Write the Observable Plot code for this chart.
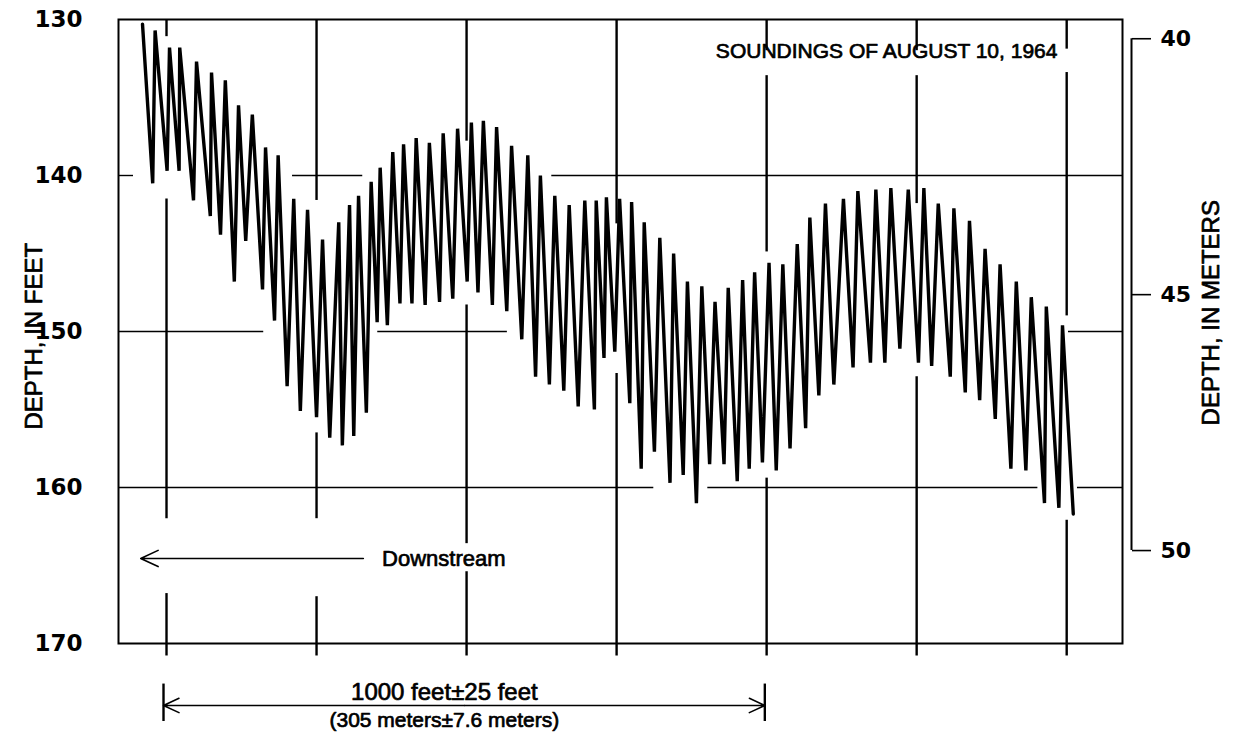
<!DOCTYPE html>
<html>
<head>
<meta charset="utf-8">
<script src="https://cdn.jsdelivr.net/npm/d3@7"></script>
<script src="https://cdn.jsdelivr.net/npm/@observablehq/plot@0.6"></script>
<style>
  html, body { margin: 0; padding: 0; background: #fff; }
  #chart { width: 1236px; height: 738px; }
</style>
</head>
<body>
<div id="chart"></div>
<script>
// ---- data (distance along profile in feet from the first fix line, depth in feet) ----
const distanceFt = [-40,-23,-19,1,5,21,22,45,50,73,
  75,90,98,113,120,132,143,160,165,180,
  186,201,212,223,235,250,260,272,287,293,
  305,312,320,333,341,351,356,368,377,389,
  395,409,416,431,438,455,461,477,485,501,
  508,519,528,543,550,567,575,592,602,615,
  623,638,647,662,671,686,697,713,716,729,
  733,747,755,772,775,791,796,813,822,839,
  845,861,868,883,892,905,914,929,936,951,
  960,971,980,993,1004,1016,1027,1039,1051,1065,
  1072,1087,1098,1112,1128,1144,1152,1173,1182,1197,
  1207,1222,1236,1253,1262,1275,1286,1306,1312,1331,
  1338,1355,1364,1381,1389,1407,1416,1432,1441,1463,
  1466,1487,1493,1511];
const depthFt = [130.3,140.5,130.7,139.7,131.8,139.7,131.8,141.6,132.7,142.6,
  133.4,143.8,133.9,146.8,135.5,144.2,136.1,147.3,138.2,149.3,
  138.7,153.5,141.5,155.1,142.2,155.5,144.1,156.8,143.0,157.3,
  141.9,156.7,141.3,155.2,140.4,149.4,139.5,149.6,138.5,148.2,
  138.0,148.2,137.6,148.3,137.9,148.1,137.3,147.9,137.0,146.8,
  136.6,147.5,136.5,148.3,136.9,148.7,138.1,150.5,138.7,152.9,
  140.0,153.4,141.3,153.8,141.9,154.8,141.6,155.0,141.6,151.7,
  141.4,151.3,141.5,154.6,141.7,158.8,143.0,157.7,144.0,159.7,
  145.0,159.2,146.8,161.0,147.1,158.5,148.1,158.5,147.2,159.6,
  146.7,158.8,146.2,158.4,145.6,158.9,145.7,157.5,144.4,156.2,
  142.7,154.1,141.8,153.4,141.5,152.3,141.0,152.0,140.9,152.0,
  140.8,151.1,140.9,152.0,140.8,152.2,141.8,152.9,142.1,153.9,
  142.9,154.4,144.7,155.6,145.7,158.8,146.8,158.9,147.8,161.0,
  148.4,161.3,149.6,161.7];

const feetTicks = [130, 140, 150, 160, 170];
const meterTicks = [40, 45, 50];
const FT_PER_M = 3.28084;
const fixLines = [0, 250, 500, 750, 1000, 1250, 1500];      // vertical fix lines, ft
const depthGrid = [140, 150, 160];                          // horizontal lines, ft

// where the chart's grid lines are interrupted
const fixLineGaps = {
  0:    [[131.1, 141.5], [162.0, 166.8]],
  250:  [[141.6, 156.5], [162.0, 167.0]],
  500:  [[137.8, 148.3], [163.6, 165.4]],
  750:  [[143.1, 152.7]],
  1000: [[132.0, 133.6], [144.9, 159.4]],
  1250: [[132.0, 133.6], [141.8, 152.9]],
  1500: [[131.9, 133.4], [149.0, 162.1]]
};
const depthGridSpans = {
  140: [[-80, -55], [210, 327], [642, 1593]],
  150: [[-80, 162], [352, 568], [1503, 1593]],
  160: [[-80, 812], [902, 1452], [1518, 1593]]
};

const titleText = "SOUNDINGS OF AUGUST 10, 1964";
const leftLabel = "DEPTH, IN FEET";
const rightLabel = "DEPTH, IN METERS";
const flowLabel = "Downstream";
const scaleLabel1 = "1000 feet\u00B125 feet";
const scaleLabel2 = "(305 meters\u00B17.6 meters)";

// ---- derived tables ----
const trace = distanceFt.map((x, i) => ({x, d: depthFt[i]}));
const yTop = 130, yBottom = 170.8;
const vSegs = [];
for (const x of fixLines) {
  let start = yTop;
  for (const [a, b] of (fixLineGaps[x] || [])) { vSegs.push({x, y1: start, y2: a}); start = b; }
  vSegs.push({x, y1: start, y2: yBottom});
}
const hSegs = [];
for (const y of depthGrid) for (const [a, b] of depthGridSpans[y]) hSegs.push({y, x1: a, x2: b});

const FONT = "Liberation Sans, Arial, Helvetica, sans-serif";
const xMax = 1593;
const textStyle = {fontFamily: FONT, fontWeight: "normal", fill: "#000", stroke: "#000", strokeWidth: 0.7};

const chart = Plot.plot({
  width: 1236,
  height: 738,
  marginLeft: 118,
  marginRight: 114,
  marginTop: 19,
  marginBottom: 95,
  style: {background: "#fff", color: "#000", fontFamily: "DejaVu Sans", fontWeight: "bold", fontSize: "22px"},
  x: {domain: [-80, xMax], axis: null},
  y: {domain: [130, 170], reverse: true},
  marks: [
    Plot.ruleY(hSegs, {y: "y", x1: "x1", x2: "x2", stroke: "#000", strokeWidth: 1.4}),
    Plot.ruleX(vSegs, {x: "x", y1: "y1", y2: "y2", stroke: "#000", strokeWidth: 2.4}),
    Plot.frame({stroke: "#000", strokeWidth: 2}),
    Plot.line(trace, {x: "x", y: "d", stroke: "#000", strokeWidth: 3.4, strokeLinejoin: "miter", strokeMiterlimit: 4}),
    // left axis
    Plot.axisY(feetTicks, {anchor: "left", tickSize: 0, tickPadding: 36, label: null,
      fontFamily: "DejaVu Sans", fontWeight: "bold", fontSize: 23}),
    Plot.text([leftLabel], {frameAnchor: "left", y: [150.3], text: d => d, dx: -84, rotate: -90,
      textAnchor: "middle", fontSize: 24, ...textStyle}),
    // right (meters) axis
    Plot.ruleX([xMax], {y1: [meterTicks[0] * FT_PER_M], y2: [meterTicks[meterTicks.length - 1] * FT_PER_M], dx: 9, stroke: "#000", strokeWidth: 2}),
    Plot.axisY(meterTicks.map(m => m * FT_PER_M), {anchor: "right", tickSize: 19, dx: 9, tickPadding: 10, strokeWidth: 1.6,
      tickFormat: d => String(Math.round(d / FT_PER_M)), label: null,
      fontFamily: "DejaVu Sans", fontWeight: "bold", fontSize: 22}),
    Plot.text([rightLabel], {frameAnchor: "right", y: [148.8], text: d => d, dx: 89, rotate: -90,
      textAnchor: "middle", fontSize: 24, ...textStyle}),
    // title
    Plot.text([titleText], {x: [1200], y: [132.05], text: d => d, textAnchor: "middle",
      fontSize: 21, ...textStyle}),
    // downstream arrow
    Plot.arrow([0], {x1: [328], x2: [-43], y1: [164.55], y2: [164.55], stroke: "#000", strokeWidth: 1.6, headLength: 18, headAngle: 50}),
    Plot.text([flowLabel], {x: [462], y: [164.55], text: d => d, textAnchor: "middle",
      fontSize: 22, ...textStyle}),
    // 1000-ft scale bar
    Plot.arrow([0], {x1: [497], x2: [-5], y1: [173.97], y2: [173.97], stroke: "#000", strokeWidth: 1.6, headLength: 16, headAngle: 50}),
    Plot.arrow([0], {x1: [497], x2: [997], y1: [173.97], y2: [173.97], stroke: "#000", strokeWidth: 1.6, headLength: 16, headAngle: 50}),
    Plot.ruleX([-5, 997], {y1: 172.6, y2: 175.0, stroke: "#000", strokeWidth: 2.4}),
    Plot.text([scaleLabel1], {x: [463], y: [173.1], text: d => d, textAnchor: "middle",
      fontSize: 24, ...textStyle}),
    Plot.text([scaleLabel2], {x: [463], y: [174.9], text: d => d, textAnchor: "middle",
      fontSize: 21, ...textStyle})
  ]
});
document.getElementById("chart").appendChild(chart);
</script>
</body>
</html>
